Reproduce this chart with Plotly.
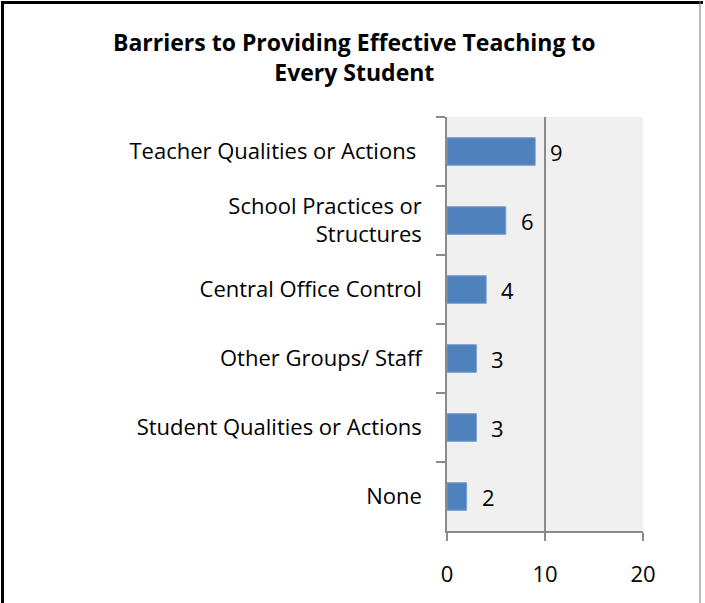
import plotly.graph_objects as go

categories = ["Teacher Qualities or Actions\u00a0", "School Practices or<br>Structures",
              "Central Office Control", "Other Groups/ Staff",
              "Student Qualities or Actions", "None"]
values = [9, 6, 4, 3, 3, 2]
x_ticks = [0, 10, 20]
title_text = "<b>Barriers to Providing Effective Teaching to<br>Every Student</b>"

W, H = 705, 603
ml, mr, mt, mb = 447, 62, 117, 72
pw, ph = W - ml - mr, H - mt - mb
FONT = "Open Sans"
FS = 22

fig = go.Figure()
fig.add_trace(go.Bar(
    x=values, y=categories, orientation="h", width=0.4,
    marker=dict(color="#4f81bd", line=dict(color="#7a9fd0", width=1)),
    hoverinfo="skip", showlegend=False,
))

for c, v in zip(categories, values):
    fig.add_annotation(x=v, y=c, xref="x", yref="y", text=str(v), showarrow=False,
                       xanchor="left", xshift=13, font=dict(family=FONT, size=FS, color="#000"))

def px_x(p):
    return (p - ml) / pw
def px_y(p):
    return 1 - (p - mt) / ph

# chart outer border (left, top black; right thin gray)
fig.add_shape(type="line", xref="paper", yref="paper", x0=px_x(2.5), x1=px_x(2.5),
              y0=px_y(1), y1=px_y(H + 2), line=dict(color="#000", width=3))
fig.add_shape(type="line", xref="paper", yref="paper", x0=px_x(1), x1=px_x(703),
              y0=px_y(2.5), y1=px_y(2.5), line=dict(color="#000", width=3))
fig.add_shape(type="line", xref="paper", yref="paper", x0=px_x(700), x1=px_x(700),
              y0=px_y(1), y1=px_y(H + 2), line=dict(color="#777", width=1))

fig.add_annotation(xref="paper", yref="paper", x=px_x(354), y=px_y(57), text=title_text,
                   showarrow=False, xanchor="center", yanchor="middle",
                   font=dict(family=FONT, size=23, color="#000"))

fig.update_layout(
    width=W, height=H, margin=dict(l=ml, r=mr, t=mt, b=mb),
    paper_bgcolor="white", plot_bgcolor="#f0f0f0",
    font=dict(family=FONT, size=FS, color="#000"),
    xaxis=dict(range=[0, 20], tickvals=x_ticks, showgrid=True, gridcolor="#8a8a8a", gridwidth=1.5,
               showline=True, linecolor="#8a8a8a", linewidth=1.5, ticks="outside", ticklen=8,
               tickcolor="#8a8a8a", tickwidth=1.5, zeroline=False, ticklabelstandoff=15,
               tickfont=dict(family=FONT, size=FS)),
    yaxis=dict(autorange="reversed", showline=True, linecolor="#8a8a8a", linewidth=1.5,
               ticks="outside", ticklen=9, tickcolor="#8a8a8a", tickwidth=1.5, tickson="boundaries",
               showgrid=False, ticklabelstandoff=19, tickfont=dict(family=FONT, size=FS)),
)

fig.write_html("out.html", config={"displayModeBar": False},
               post_script="document.body.style.margin='0';document.body.style.overflow='hidden';")
